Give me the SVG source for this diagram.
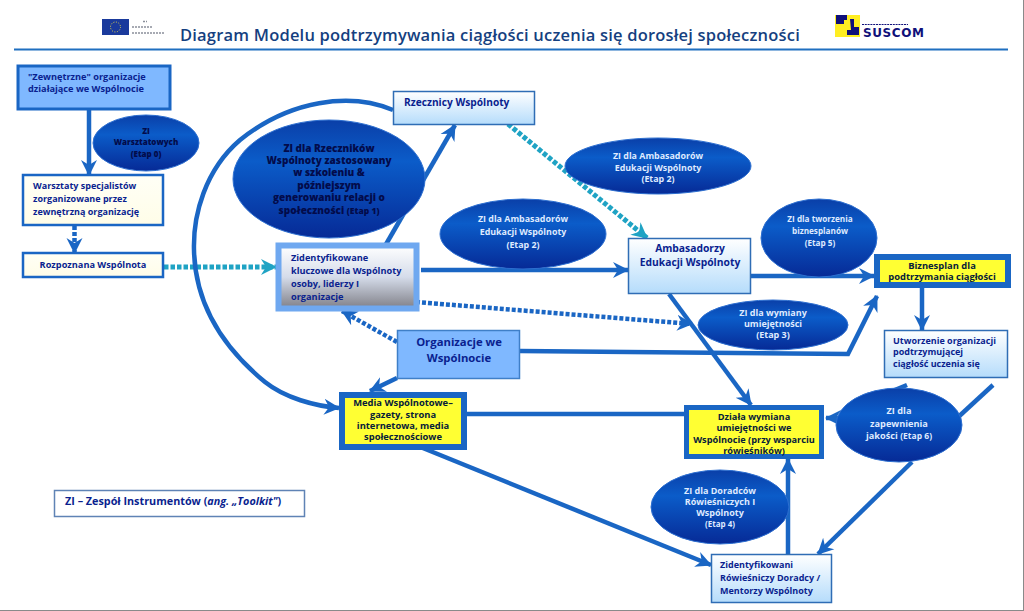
<svg xmlns="http://www.w3.org/2000/svg" width="1024" height="611" viewBox="0 0 1024 611">
<style>
text{font-family:"Open Sans","Liberation Sans",sans-serif;font-weight:700;fill:#0a1f8f;font-size:9.2px}
.c{text-anchor:middle}
.w{fill:#dfeaff}
.d{fill:#030b4a;font-weight:800}
.k{fill:#06203a}
.l{fill:none;stroke:#1a66c4;stroke-width:4.500}
.t{fill:none;stroke:#1fa3c4;stroke-width:5;stroke-dasharray:4.5 2}
.e{fill:url(#eg);stroke:#2d6fd0;stroke-width:1}
.g{fill:url(#bg);stroke:#2f6db5;stroke-width:1.5}
.y{fill:#ffff33;stroke:#1a66c4}
</style>
<defs>
<linearGradient id="eg" x1="0" y1="0" x2="0" y2="1"><stop offset="0" stop-color="#0a3fa8"/><stop offset=".35" stop-color="#0b5cc9"/><stop offset="1" stop-color="#062a96"/></linearGradient>
<linearGradient id="bg" x1="0" y1="0" x2="0" y2="1"><stop offset="0" stop-color="#ffffff"/><stop offset="1" stop-color="#b5dcfb"/></linearGradient>
<linearGradient id="gg" x1="0" y1="0" x2="0" y2="1"><stop offset="0" stop-color="#ffffff"/><stop offset=".5" stop-color="#d5dcea"/><stop offset="1" stop-color="#7f7f87"/></linearGradient>
<linearGradient id="iv" x1="0" y1="0" x2="0" y2="1"><stop offset="0" stop-color="#fffff6"/><stop offset="1" stop-color="#fffde8"/></linearGradient>
<marker id="ab" markerUnits="userSpaceOnUse" markerWidth="18" markerHeight="18" viewBox="0 0 18 18" refX="15" refY="9" orient="auto"><path d="M0,1 L16,9 L0,17 L5,9z" fill="#1a66c4"/></marker>
<marker id="at" markerUnits="userSpaceOnUse" markerWidth="18" markerHeight="18" viewBox="0 0 18 18" refX="15" refY="9" orient="auto"><path d="M0,1 L16,9 L0,17 L5,9z" fill="#1fa3c4"/></marker>
</defs>
<rect width="1024" height="611" fill="#fff"/>
<path d="M1023.5,0V611M0,610.5H1024" stroke="#8a8a8a" fill="none"/>
<g id="header">
<rect x="102" y="19" width="27" height="16" fill="#1a3a9c"/>
<circle cx="115.500" cy="27" r="5" fill="none" stroke="#e8d84a" stroke-width="1" stroke-dasharray="1 1.6"/>
<path d="M143,21.500h4M132,27h20M132,33h33" stroke="#8a8f9a" stroke-width="1.500" stroke-dasharray="2 1" fill="none"/>
<text x="180" y="41" style="font-size:16.500px;font-weight:600;fill:#153f80;letter-spacing:.2px">Diagram Modelu podtrzymywania ciągłości uczenia się dorosłej społeczności</text>
<path d="M14,49.500H1008" stroke="#1f6fc0" stroke-width="1.800"/>
<rect x="835" y="15" width="25" height="22" fill="#ffee22"/>
<path d="M836,15h11v5h-3v4h-8zM850,19h4v8h5v8h-12v-5h4z" fill="#10107a"/>
<path d="M862,24.500h46" stroke="#10107a" stroke-width="1" stroke-dasharray="2 .8"/>
<text x="863" y="37" style="font-size:12px;fill:#10107a;font-family:'DejaVu Sans',sans-serif;letter-spacing:.6px">SUSCOM</text>
</g>
<g id="connectors">
<path class="l" d="M89,109V175" marker-end="url(#ab)"/>
<path class="l" d="M74.500,226V253" stroke-dasharray="4 2" marker-end="url(#ab)"/>
<path class="t" d="M164,267H276" marker-end="url(#at)"/>
<path class="l" d="M385,246L455,125" marker-end="url(#ab)"/>
<path class="t" d="M508,124L647,238" stroke-dasharray="3.500 2" marker-end="url(#at)"/>
<path class="l" d="M421,270H628" marker-end="url(#ab)"/>
<path class="l" d="M751,276H874" marker-end="url(#ab)"/>
<path class="l" d="M922,287V330" marker-end="url(#ab)"/>
<path class="l" d="M416,302L692,324" stroke-dasharray="4 2" marker-end="url(#ab)"/>
<path class="l" d="M397,342L342,311" stroke-dasharray="4 2" marker-end="url(#ab)"/>
<path class="l" d="M397,378L370,391" marker-end="url(#ab)"/>
<path class="l" d="M520,351L848,354L877,296" marker-end="url(#ab)"/>
<path class="l" d="M669,294L751,405" marker-end="url(#ab)"/>
<path class="l" d="M467,414H684"/>
<path class="l" d="M408,442L711,565" marker-end="url(#ab)"/>
<path class="l" d="M993,385L955,420"/>
<path class="l" d="M907,385L885,394"/>
<path class="l" d="M860,418H826" marker-end="url(#ab)"/>
<path class="l" d="M912,462L818,554" marker-end="url(#ab)"/>
<path class="l" d="M788,554V459" marker-end="url(#ab)"/>
<path class="l" d="M393,110C350,92 290,100 240,140C205,170 193,215 194,250C195,300 220,345 265,382C285,398 315,406 339,408" marker-end="url(#ab)"/>
</g>
<g id="n-zewn"><rect x="18" y="66" width="152" height="43" fill="#7fb8ff" stroke="#1a66c4" stroke-width="3"/>
<text x="28" y="80">"Zewnętrzne" organizacje</text><text x="28" y="92">działające we Wspólnocie</text></g>
<g id="n-warsztaty"><rect x="23" y="175" width="140" height="50" fill="url(#iv)" stroke="#1a66c4" stroke-width="2.500"/>
<text x="33" y="189" style="font-size:9px">Warsztaty specjalistów</text><text x="33" y="202" style="font-size:9px">zorganizowane przez</text><text x="33" y="215" style="font-size:9px">zewnętrzną  organizację</text></g>
<g id="n-rozp"><rect x="23" y="253" width="140" height="24" fill="url(#iv)" stroke="#1a66c4" stroke-width="2.500"/>
<text class="c" x="93" y="268">Rozpoznana Wspólnota</text></g>
<g id="n-zi0"><ellipse class="e" cx="146" cy="143" rx="53" ry="28"/>
<text class="c d" x="146" y="134" style="font-size:8px">ZI</text><text class="c d" x="146" y="145" style="font-size:8px">Warsztatowych</text><text class="c d" x="146" y="157" style="font-size:8px">(Etap 0)</text></g>
<g id="n-zi1"><ellipse class="e" cx="329" cy="179" rx="96" ry="59"/>
<text class="c d" x="329" y="152" style="font-size:10px">ZI dla Rzeczników</text><text class="c d" x="329" y="164" style="font-size:10px">Wspólnoty zastosowany</text><text class="c d" x="329" y="176" style="font-size:10px">w szkoleniu &amp;</text><text class="c d" x="329" y="189" style="font-size:10px">późniejszym</text><text class="c d" x="329" y="201" style="font-size:10px">generowaniu  relacji o</text><text class="c d" x="329" y="214" style="font-size:10px">społeczności <tspan style="font-size:8.500px">(Etap 1)</tspan></text></g>
<g id="n-rzecz"><rect x="393.500" y="91.500" width="141" height="33" class="g"/>
<text x="404" y="106" style="font-size:10.200px">Rzecznicy Wspólnoty</text></g>
<g id="n-zid"><rect x="278.500" y="245.500" width="138" height="63" fill="url(#gg)" stroke="#6fa8f0" stroke-width="6"/>
<text x="291" y="261">Zidentyfikowane</text><text x="291" y="274">kluczowe dla Wspólnoty</text><text x="291" y="287">osoby, liderzy  I</text><text x="291" y="300">organizacje</text></g>
<g id="n-zi2a"><ellipse class="e" cx="523" cy="234" rx="83" ry="35"/>
<text class="c w" x="523" y="222" style="font-size:8.900px">ZI dla Ambasadorów</text><text class="c w" x="523" y="235" style="font-size:8.900px">Edukacji Wspólnoty</text><text class="c w" x="523" y="248" style="font-size:8.900px">(Etap 2)</text></g>
<g id="n-zi2b"><ellipse class="e" cx="658" cy="166" rx="93" ry="28"/>
<text class="c w" x="658" y="159" style="font-size:8.900px">ZI dla Ambasadorów</text><text class="c w" x="658" y="171" style="font-size:8.900px">Edukacji Wspólnoty</text><text class="c w" x="658" y="182" style="font-size:8.900px">(Etap 2)</text></g>
<g id="n-amb"><rect x="628.500" y="238.500" width="122" height="55" class="g"/>
<text class="c" x="690" y="252" style="font-size:10.300px">Ambasadorzy</text><text class="c" x="690" y="266" style="font-size:10.300px">Edukacji Wspólnoty</text></g>
<g id="n-zi5"><ellipse class="e" cx="819" cy="238" rx="58" ry="39"/>
<text class="c w" x="820" y="222" style="font-size:8.200px">ZI dla tworzenia</text><text class="c w" x="820" y="234" style="font-size:8.200px">biznesplanów</text><text class="c w" x="820" y="246" style="font-size:8.200px">(Etap 5)</text></g>
<g id="n-biz"><rect x="877" y="257" width="131" height="28" class="y" stroke-width="6"/>
<text class="c k" x="942" y="269" style="font-size:9.400px">Biznesplan dla</text><text class="c k" x="942" y="280" style="font-size:9.400px">podtrzymania ciągłości</text></g>
<g id="n-zi3"><ellipse class="e" cx="773" cy="325" rx="75" ry="25"/>
<text class="c w" x="773" y="316" style="font-size:9px">ZI dla wymiany</text><text class="c w" x="773" y="327" style="font-size:9px">umiejętności</text><text class="c w" x="773" y="338" style="font-size:9px">(Etap 3)</text></g>
<g id="n-org"><rect x="397.500" y="330.500" width="122" height="48" fill="#7fb8ff" stroke="#3f7fc8" stroke-width="1.500"/>
<text class="c" x="459" y="346" style="font-size:11.300px">Organizacje we</text><text class="c" x="459" y="362" style="font-size:11.300px">Wspólnocie</text></g>
<g id="n-utw"><rect x="884.500" y="330.500" width="123" height="47" class="g"/>
<text x="893" y="344" style="font-size:9px">Utworzenie organizacji</text><text x="893" y="355" style="font-size:9px">podtrzymującej</text><text x="893" y="367" style="font-size:9px">ciągłość uczenia się</text></g>
<g id="n-media"><rect x="342" y="395" width="122" height="52" class="y" stroke-width="6"/>
<text class="c k" x="403" y="406" style="font-size:9.400px">Media Wspólnotowe–</text><text class="c k" x="403" y="418" style="font-size:9.400px">gazety, strona</text><text class="c k" x="403" y="429" style="font-size:9.400px">internetowa, media</text><text class="c k" x="403" y="440" style="font-size:9.400px">społecznościowe</text></g>
<g id="n-dzial"><rect x="686.500" y="407.500" width="135" height="49" class="y" stroke-width="5"/>
<text class="c k" x="754" y="420">Działa wymiana</text><text class="c k" x="754" y="431">umiejętności we</text><text class="c k" x="754" y="443">Wspólnocie (przy wsparciu</text><text class="c k" x="754" y="454">rówieśników)</text></g>
<g id="n-zi6"><ellipse class="e" cx="899" cy="425" rx="63" ry="37"/>
<text class="c w" x="899" y="414">ZI dla</text><text class="c w" x="899" y="427">zapewnienia</text><text class="c w" x="899" y="439">jakości <tspan style="font-size:8.500px">(Etap 6)</tspan></text></g>
<g id="n-zi4"><ellipse class="e" cx="720" cy="507" rx="69" ry="37"/>
<text class="c w" x="720" y="494" style="font-size:9px">ZI dla Doradców</text><text class="c w" x="720" y="505" style="font-size:9px">Rówieśniczych I</text><text class="c w" x="720" y="516" style="font-size:9px">Wspólnoty</text><text class="c w" x="720" y="527" style="font-size:8px">(Etap 4)</text></g>
<g id="n-mentor"><rect x="711.500" y="554.500" width="120" height="48" class="g"/>
<text x="720" y="568" style="font-size:9px">Zidentyfikowani</text><text x="720" y="581" style="font-size:9px">Rówieśniczy Doradcy /</text><text x="720" y="594" style="font-size:9px">Mentorzy Wspólnoty</text></g>
<g id="n-legend"><rect x="54.500" y="490.500" width="250" height="26" fill="#fff" stroke="#5f83b5" stroke-width="1.500"/>
<text x="65" y="505" style="font-size:10.800px">ZI – Zespół Instrumentów (<tspan font-style="italic">ang. „Toolkit"</tspan>)</text></g>
</svg>
